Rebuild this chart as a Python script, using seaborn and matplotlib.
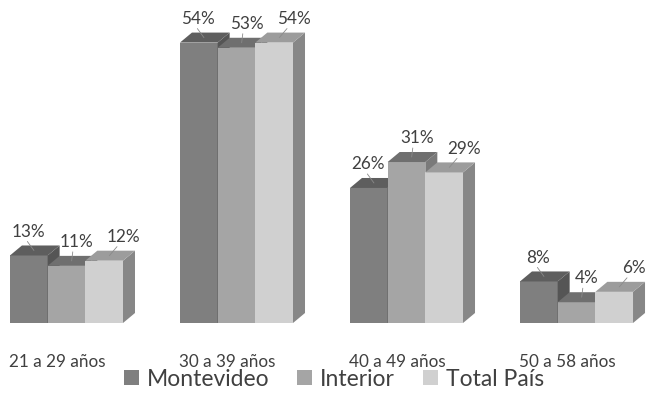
import matplotlib
matplotlib.use("Agg")
import matplotlib.pyplot as plt
import matplotlib.transforms as mtransforms
from matplotlib.patches import Polygon, Patch
import seaborn as sns
import pandas as pd

# ---- data ----
categories = ["21 a 29 años", "30 a 39 años", "40 a 49 años", "50 a 58 años"]
series_names = ["Montevideo", "Interior", "Total País"]
montevideo = [13, 54, 26, 8]
interior = [11, 53, 31, 4]
total_pais = [12, 54, 29, 6]

rows = []
for name, vals in zip(series_names, [montevideo, interior, total_pais]):
    for c, v in zip(categories, vals):
        rows.append({"Edad": c, "Serie": name, "Valor": v})
df = pd.DataFrame(rows)

front_colors = ["#7f7f7f", "#a5a5a5", "#d0d0d0"]
top_colors = ["#5e5e5e", "#6f6f6f", "#9c9c9c"]
side_colors = ["#555555", "#7a7a7a", "#878787"]
text_color = "#404040"

sns.set_theme(style="white")
plt.rcParams["font.family"] = ["Lato", "DejaVu Sans"]

W, H = 653, 403
fig = plt.figure(figsize=(W / 100, H / 100), dpi=100)
ax = fig.add_axes([0, 80 / H, 1, 323 / H])

sns.barplot(data=df, x="Edad", y="Valor", hue="Serie", order=categories,
            hue_order=series_names, palette=front_colors, width=0.665,
            saturation=1, ax=ax, legend=False, linewidth=0)

ax.set_xlim(-0.391, 3.45)
ax.set_ylim(0, 62.2)

dx = 12 / 170
dy = 10 / 5.19

bars = []
for hi, cont in enumerate(ax.containers):
    for bi, p in enumerate(cont.patches):
        bars.append((p.get_x(), hi, p))
bars.sort(key=lambda t: t[0])

z = 2
for x0, hi, p in bars:
    w = p.get_width()
    h = p.get_height()
    p.set_zorder(z)
    top = Polygon([(x0, h), (x0 + w, h), (x0 + w + dx, h + dy), (x0 + dx, h + dy)],
                  closed=True, facecolor=top_colors[hi], edgecolor="none", zorder=z)
    side = Polygon([(x0 + w, 0), (x0 + w + dx, dy), (x0 + w + dx, h + dy), (x0 + w, h)],
                   closed=True, facecolor=side_colors[hi], edgecolor="none", zorder=z)
    ax.add_patch(side)
    ax.add_patch(top)
    z += 1

label_shift = [-0.005, 0.06, 0.115]
for x0, hi, p in bars:
    w = p.get_width()
    h = p.get_height()
    cx = x0 + w / 2 + label_shift[hi]
    ty = h + 4.6
    ax.text(cx, ty, f"{int(round(h))}%", ha="center", va="center",
            fontsize=12.3, color=text_color, zorder=50)
    ax.plot([cx - 0.005 - label_shift[hi] * 0.3, x0 + w / 2 + dx / 2 - 0.005],
            [ty - 1.9, h + dy / 2], color="#8a8a8a", lw=0.6, zorder=49)

ax.set_xticks(range(len(categories)))
ax.set_xticklabels(categories, fontsize=12.3, color=text_color)
ax.tick_params(axis="x", length=0, pad=22)
offset = mtransforms.ScaledTranslation(-9 / 100, 0, fig.dpi_scale_trans)
for lab in ax.get_xticklabels():
    lab.set_transform(lab.get_transform() + offset)
ax.set_yticks([])
ax.set_xlabel("")
ax.set_ylabel("")
for s in ax.spines.values():
    s.set_visible(False)
ax.patch.set_alpha(0)

handles = [Patch(facecolor=c, edgecolor="none") for c in front_colors]
fig.legend(handles, series_names, loc="center", bbox_to_anchor=(334 / W, 1 - 379 / H),
           ncol=3, frameon=False, fontsize=16.5, handlelength=0.65, handleheight=0.65,
           handletextpad=0.35, columnspacing=1.2, labelcolor=text_color,
           borderpad=0, borderaxespad=0)

fig.savefig("out.png", dpi=100)
